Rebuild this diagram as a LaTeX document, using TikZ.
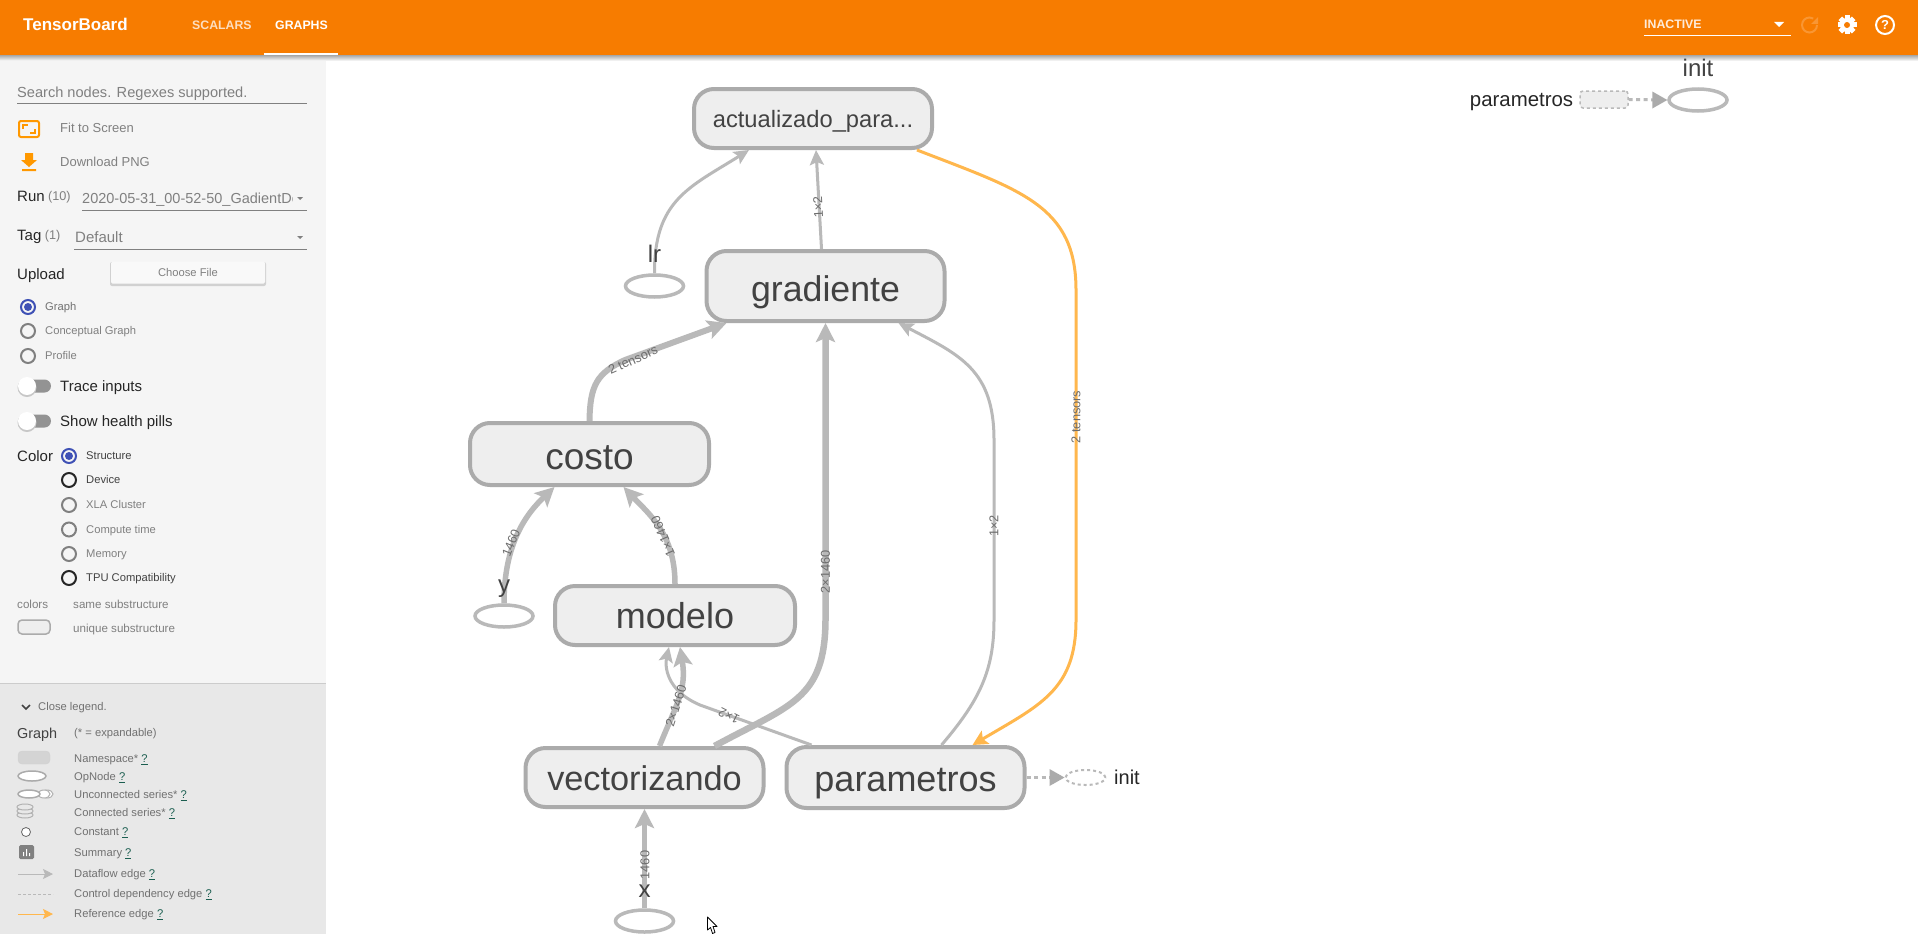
\documentclass[tikz,border=0pt]{standalone}
\usepackage{fontspec}
\setmainfont{Liberation Sans}
\usetikzlibrary{arrows.meta,calc,positioning,shapes.geometric}
\definecolor{tbOrange}{HTML}{F77C00}
\definecolor{tbAmber}{HTML}{FF9800}
\definecolor{tbSide}{HTML}{F5F5F5}
\definecolor{tbLegend}{HTML}{E8E8E8}
\definecolor{tbFill}{HTML}{EEEEEE}
\definecolor{tbStroke}{HTML}{ABABAB}
\definecolor{tbEdge}{HTML}{B9B9B9}
\definecolor{tbRef}{HTML}{FFB74D}
\definecolor{tbText}{HTML}{424242}
\definecolor{tbGrey}{HTML}{808080}
\definecolor{tbBlue}{HTML}{3F51B5}
\definecolor{tbLink}{HTML}{1B5E50}
\newcommand{\px}[1]{\fontsize{#1pt}{#1pt}\selectfont}
\newcommand{\helplink}{\textcolor{tbLink}{\underline{?}}}
\tikzset{
  sz/.style = {font=\px{#1}, text height=0.7*#1pt, text depth=0pt},
  group/.style = {rectangle, rounded corners=20pt, draw=tbStroke, fill=tbFill, line width=4pt,
    outer sep=2pt, inner sep=0pt, text=tbText, minimum width=238pt, sz=35.7},
  opnode/.style = {ellipse, draw=tbEdge, fill=white, line width=3.5pt, outer sep=1.7pt,
    inner sep=0pt, minimum width=58pt, minimum height=22pt},
  oplabel/.style = {inner sep=0pt, text=tbText, sz=24},
  flow/.style = {draw=tbEdge, line width=3pt, -{Stealth[length=15pt,width=14pt,inset=3pt]}},
  flowthick/.style = {draw=tbEdge, line width=5.5pt, -{Stealth[length=19pt,width=19pt,inset=4pt]}},
  refedge/.style = {draw=tbRef, line width=3pt, -{Stealth[length=15pt,width=15pt,inset=3pt]}},
  ctrl/.style = {draw=tbEdge, line width=3pt, dash pattern=on 4pt off 3.5pt},
  ctrltip/.style = {fill=tbStroke, draw=none},
  edgelabel/.style = {inner sep=0pt, text=tbGrey!85!black, font=\px{12.8}},
  side/.style = {anchor=west, inner sep=0pt, text=tbGrey, sz=13},
  sidedark/.style = {side, text=black!85, sz=15},
  rule/.style = {draw=tbGrey, line width=1pt},
  radio/.style = {circle, draw=#1, line width=2pt, minimum size=14pt, inner sep=0pt},
  radio/.default = tbGrey,
  tiny/.style = {anchor=west, inner sep=0pt, text=tbText!75, sz=11.2}
}
\begin{document}
\begin{tikzpicture}[x=1pt, y=-1pt]
  \useasboundingbox (0,0) rectangle (1918,934);
  \fill[white] (0,0) rectangle (1918,934);

  % panels
  \fill[tbSide] (0,55) rectangle (326,683);
  \fill[tbLegend] (0,683) rectangle (326,934);
  \draw[black!20, line width=1pt] (0,683) -- (326,683);
  \shade[top color=black!35, bottom color=black!0] (0,55) rectangle (1918,61);
  \fill[tbOrange] (0,0) rectangle (1918,55);

  % header
  \node[anchor=west, inner sep=0pt, text=white, sz=17] (brand) at (23,25) {\bfseries TensorBoard};
  \node[anchor=west, inner sep=0pt, text=white!75!tbOrange, sz=12.3] (scalars) at (192,25) {\bfseries SCALARS};
  \node[anchor=west, inner sep=0pt, text=white, sz=12.3] (graphs) at (275,25) {\bfseries GRAPHS};
  \fill[white] (264,53) rectangle (338,55);
  \node[anchor=west, inner sep=0pt, text=white!85!tbOrange, sz=12.3] (inactive) at (1644,24) {\bfseries INACTIVE};
  \draw[white, line width=1pt] (1644,36) -- (1791,36);
  \fill[white] (1774,22) -- (1784,22) -- (1779,27) -- cycle;
  \draw[white!20!tbOrange, line width=2pt] (1817,25) arc (0:300:7.5);
  \fill[white!20!tbOrange] (1818,17) -- (1818,24) -- (1811,24) -- cycle;
  \foreach \a in {0,45,90,135}
    \fill[white, rotate around={\a:(1847,25)}] (1844.5,15.5) rectangle (1849.5,34.5);
  \fill[white] (1847,25) circle (7);
  \fill[tbOrange] (1847,25) circle (3);
  \node[circle, draw=white, line width=2pt, minimum size=18pt, inner sep=0pt, text=white, font=\px{13}\bfseries] (help) at (1885,25) {?};

  % search, run, tag
  \node[side, sz=14.6] (search) at (17,92) {Search nodes. Regexes supported.};
  \draw[rule] (17,103) -- (307,103);
  \draw[tbAmber, line width=2pt, rounded corners=2pt] (19,121) rectangle (39,137);
  \draw[tbAmber, line width=2pt] (23,129) -- (23,125) -- (28,125) (35,129) -- (35,133) -- (30,133);
  \node[side, sz=13] (fit) at (60,128) {Fit to Screen};
  \fill[tbAmber] (25,153) rectangle (33,160) (21,160) -- (37,160) -- (29,167) -- cycle (22,169) rectangle (36,171);
  \node[side, sz=13] (download) at (60,162) {Download PNG};
  \node[sidedark] (run) at (17,196) {Run};
  \node[side, sz=12.7, right=3pt of run] (runcount) {(10)};
  \begin{scope}
    \clip (80,185) rectangle (292,212);
    \node[side, sz=14.5] (runname) at (82,198) {2020-05-31\_00-52-50\_GadientDescent};
  \end{scope}
  \draw[rule] (82,210) -- (307,210);
  \fill[tbGrey] (297,197) -- (303,197) -- (300,200) -- cycle;
  \node[sidedark] (tag) at (17,235) {Tag};
  \node[side, sz=12.7, right=3pt of tag] (tagcount) {(1)};
  \node[side, sz=15] (tagname) at (75,237) {Default};
  \draw[rule] (74,249) -- (307,249);
  \fill[tbGrey] (297,236) -- (303,236) -- (300,239) -- cycle;
  \node[sidedark] (upload) at (17,274) {Upload};
  \fill[black!18, rounded corners=2pt] (110,262) rectangle (266,286);
  \node[rectangle, rounded corners=1.5pt, fill=tbSide!60!white, minimum width=154pt, minimum height=22pt, inner sep=0pt, text=tbGrey, sz=11.2] (choose) at (188,272.5) {Choose File};

  % radios
  \node[radio=tbBlue] (rgraph) at (28,307) {};
  \fill[tbBlue] (rgraph.center) circle (4);
  \node[tiny, right=9pt of rgraph] (tgraph) {Graph};
  \node[radio] (rconcept) at (28,331) {};
  \node[tiny, text=tbGrey, right=9pt of rconcept] (tconcept) {Conceptual Graph};
  \node[radio] (rprofile) at (28,356) {};
  \node[tiny, text=tbGrey, right=9pt of rprofile] (tprofile) {Profile};

  % toggles
  \foreach \nm/\yy/\lab in {trace/386/Trace inputs, pills/421/Show health pills} {
    \fill[tbGrey!85, rounded corners=6.5pt] (20,\yy-6.5) rectangle (51,\yy+6.5);
    \fill[black!22] (27,\yy+1.5) circle (9.5);
    \fill[white] (27,\yy) circle (9);
    \node[sidedark] (\nm) at (60,\yy) {\lab};
  }

  % colour
  \node[sidedark] (color) at (17,456) {Color};
  \foreach \nm/\yy/\lab/\cc/\tc in {struct/456/Structure/tbBlue/tbText,
      device/480/Device/black!85/tbText, xla/505/XLA Cluster/tbGrey/tbGrey,
      compute/529.5/Compute time/tbGrey/tbGrey, memory/554/Memory/tbGrey/tbGrey,
      tpu/578/TPU Compatibility/black!85/tbText} {
    \node[radio=\cc] (c\nm) at (69,\yy) {};
    \node[tiny, text=\tc, right=9pt of c\nm] (l\nm) {\lab};
  }
  \fill[tbBlue] (cstruct.center) circle (4);
  \node[side, sz=11.6] (colors) at (17,604) {colors};
  \node[side, sz=11.6] (same) at (73,604) {same substructure};
  \draw[tbStroke, fill=tbFill, line width=1.5pt, rounded corners=4pt] (18,620) rectangle (50,634);
  \node[side, sz=11.6] (unique) at (73,628) {unique substructure};

  % legend
  \draw[tbText, line width=1.5pt] (22,705) -- (26,709) -- (30,705);
  \node[tiny] (closeleg) at (38,707) {Close legend.};
  \node[sidedark, text=tbText, sz=14.4] (graphleg) at (17,733) {Graph};
  \node[tiny] (expand) at (74,733) {(* = expandable)};
  \foreach \nm/\yy/\lab in {nsp/759/Namespace*, opn/777/OpNode, ucs/795/Unconnected series*,
      cns/813/Connected series*, cst/832/Constant, smm/853/Summary, dfl/874/Dataflow edge,
      cdp/894/Control dependency edge, rfe/914/Reference edge}
    \node[tiny] (\nm) at (74,\yy) {\lab{} \helplink};
  \draw[black!18, fill=black!17, rounded corners=4pt] (18,751) rectangle (50,764);
  \draw[tbStroke, fill=white, line width=1.5pt] (32,776) ellipse (14 and 5);
  \foreach \xx in {47,44}
    \draw[black!30, fill=white, line width=1pt] (\xx,794) ellipse (6 and 4);
  \draw[tbStroke, fill=white, line width=1.5pt] (29,794) ellipse (11 and 4);
  \foreach \yy in {815,811,807}
    \draw[black!30, fill=tbLegend, line width=1pt] (25,\yy) ellipse (8 and 3);
  \draw[black!60, fill=white, line width=.8pt] (26,832) circle (4.5);
  \fill[tbGrey, rounded corners=1.5pt] (19,845) rectangle (34,859);
  \fill[white] (23,852) rectangle (24,856) (26,849) rectangle (27,856) (29,853) rectangle (30,856);
  \coordinate (dfla) at (18,874); \coordinate (dflb) at (53,874);
  \draw[draw=tbEdge, line width=1pt, -{Stealth[length=10pt,width=10pt,inset=2pt]}] (dfla) -- (dflb);
  \draw[draw=tbEdge, line width=.8pt, dash pattern=on 3pt off 2pt] (18,894) -- (53,894);
  \coordinate (rfea) at (18,914); \coordinate (rfeb) at (53,914);
  \draw[draw=tbRef, line width=1pt, -{Stealth[length=10pt,width=10pt,inset=2pt]}] (rfea) -- (rfeb);

  % graph nodes
  \node[group, sz=23.7, text height=18.6pt, minimum height=59pt] (actualizado) at (813,118.5) {actualizado\_para...};
  \node[group, text height=30pt, minimum height=70pt] (gradiente) at (825.5,286) {gradiente};
  \node[group, sz=37, text height=30.5pt, minimum width=239pt, minimum height=62pt] (costo) at (589.5,454) {costo};
  \node[group, sz=36, minimum width=240pt, minimum height=59pt] (modelo) at (675,615.5) {modelo};
  \node[group, sz=34.3, text height=26pt, minimum height=59pt] (vectorizando) at (644.5,777.5) {vectorizando};
  \node[group, sz=36, text height=27.2pt, minimum height=61pt] (parametros) at (905.5,777.5) {parametros};

  \node[opnode] (lr) at (654.5,286) {};
  \node[opnode] (y) at (504,616) {};
  \node[opnode] (x) at (644.5,921) {};

  \node[ellipse, draw=tbEdge, dashed, line width=2pt, fill=white, inner sep=0pt, minimum width=40pt, minimum height=15pt, outer sep=1pt] (initsmall) at (1085.5,777.5) {};
  \node[anchor=west, inner sep=0pt, text=black!85, sz=20] (initlabel) at (1114,777.5) {init};
  \draw[ctrl, shorten >=14pt] (parametros.east) -- (initsmall.west);
  \fill[ctrltip] (initsmall.west) -- ++(-15,-8.5) -- ++(0,17) -- cycle;

  % detached pair
  \node[opnode] (inittop) at (1698,100) {};
  \node[oplabel] (inittoplabel) at (1698,68.5) {init};
  \node[rectangle, rounded corners=3pt, draw=tbEdge, dashed, fill=tbFill, line width=1.5pt, inner sep=0pt, minimum width=48pt, minimum height=17pt, outer sep=.7pt] (paramsmall) at (1604,99.5) {};
  \node[inner sep=0pt, text=black!85, sz=20.4, left=6pt of paramsmall] (paramtext) {parametros};
  \draw[ctrl, shorten >=14pt] (paramsmall.east) -- (inittop.west);
  \fill[ctrltip] (inittop.west) -- ++(-15,-8.5) -- ++(0,17) -- cycle;

  % edges
  \draw[flowthick] (x.north) -- (vectorizando.south);
  \draw[flow] (lr.north) .. controls (654,200) and (690,187) .. ($(actualizado.south west)+(57,0)$);
  \draw[flow] ($(gradiente.north)+(-4,0)$) -- ($(actualizado.south)+(3,0)$);
  \draw[flowthick] (y.north) .. controls (504,545) and (525,515) .. ($(costo.south)+(-35,0)$);
  \draw[flowthick] ($(modelo.north)$) .. controls (675,535) and (650,515) .. ($(costo.south)+(34,0)$);
  \draw[flowthick, line width=6pt] (costo.north) .. controls (590,385) and (597,373) .. (625,360) -- ($(gradiente.south west)+(22,0)$);
  \draw[flowthick, line width=6.5pt] ($(vectorizando.north)+(70,0)$) .. controls (790,705) and (825,700) .. (825.5,620) -- (gradiente.south);
  \draw[flowthick] ($(vectorizando.north)+(15,0)$) .. controls (676,705) and (687,690) .. ($(modelo.south)+(5,0)$);
  \draw[flow] ($(parametros.north)+(-94,0)$) -- (700,705) .. controls (665,690) and (665,665) .. ($(modelo.south)+(-6,0)$);
  \draw[flow] ($(parametros.north)+(36,0)$) .. controls (980,700) and (994,670) .. (994,620) -- (994,440) .. controls (994,370) and (960,355) .. ($(gradiente.south east)+(-48,0)$);
  \draw[refedge] ($(actualizado.south east)+(-17,0)$) .. controls (1020,190) and (1076,205) .. (1076,290) -- (1076,620) .. controls (1076,690) and (1040,705) .. ($(parametros.north)+(67,0)$);

  % edge labels
  \node[edgelabel, rotate=93] (e1) at (818,207) {1×2};
  \node[edgelabel, rotate=24] (e2) at (633,360) {2 tensors};
  \node[edgelabel, rotate=68] (e3) at (511,543) {1460};
  \node[edgelabel, rotate=113] (e4) at (663,536) {1×1460};
  \node[edgelabel, rotate=90] (e5) at (825.5,572) {2×1460};
  \node[edgelabel, rotate=90] (e6) at (994,526) {1×2};
  \node[edgelabel, rotate=90] (e7) at (1076,417) {2 tensors};
  \node[edgelabel, rotate=72] (e8) at (676,706) {2×1460};
  \node[edgelabel, rotate=153] (e9) at (729,716) {1×2};
  \node[edgelabel, rotate=90] (e10) at (645,865) {1460};

  % labels above the op nodes
  \node[oplabel] (lrlabel) at (654.5,254) {lr};
  \node[oplabel] (ylabel) at (504,584) {y};
  \node[oplabel] (xlabel) at (644.5,889) {x};

  % pointer
  \draw[black, fill=white, line width=.8pt, line join=round] (707.5,917) -- (707.5,930) -- (710.5,927.5) -- (712.5,933.5) -- (715,932.5) -- (713,926.5) -- (717,926.5) -- cycle;
\end{tikzpicture}
\end{document}
